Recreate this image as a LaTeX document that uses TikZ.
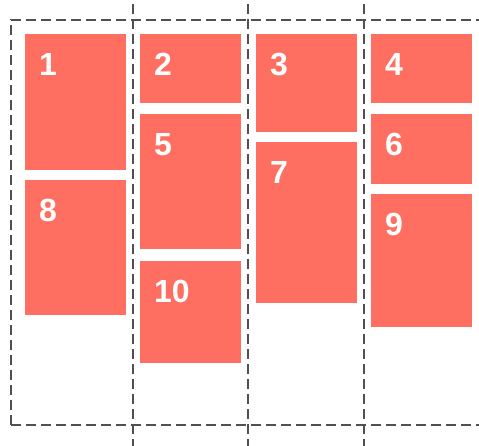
\documentclass[tikz,border=0pt]{standalone}
\usepackage{fontspec}
\setmainfont{Liberation Sans}
\usetikzlibrary{positioning}
\definecolor{tilered}{RGB}{255,111,97}
\definecolor{guidegray}{RGB}{80,80,80}

\begin{document}
\begin{tikzpicture}[
  x=1pt, y=-1pt,
  tile/.style={draw=none, fill=tilered, minimum width=101pt, inner sep=0pt, anchor=north west},
  num/.style={text=white, font=\bfseries\fontsize{32}{32}\selectfont, inner sep=0pt, anchor=base west},
  guide/.style={draw=guidegray, line width=2pt, dash pattern=on 10pt off 5pt}
]
\useasboundingbox (0,0) rectangle (479,445);
\clip (0,0) rectangle (479,445);

% column guides and outer frame
\draw[guide] (11,425) -- (11,20) -- (490,20);
\draw[guide] (11,425) -- (490,425);
\draw[guide] (133,4) -- (133,450);
\draw[guide] (248,4) -- (248,450);
\draw[guide] (364,4) -- (364,450);

% tiles
\node[tile, minimum height=136pt] (t1)  at (25,34)   {};
\node[tile, minimum height=69pt]  (t2)  at (140,34)  {};
\node[tile, minimum height=98pt]  (t3)  at (256,34)  {};
\node[tile, minimum height=69pt]  (t4)  at (371,34)  {};
\node[tile, minimum height=135pt] (t5)  at (140,114) {};
\node[tile, minimum height=70pt]  (t6)  at (371,114) {};
\node[tile, minimum height=161pt] (t7)  at (256,142) {};
\node[tile, minimum height=135pt] (t8)  at (25,180)  {};
\node[tile, minimum height=133pt] (t9)  at (371,194) {};
\node[tile, minimum height=102pt] (t10) at (140,261) {};

% numbers
\node[num] (n1)  at ([xshift=14pt,yshift=-41pt]t1.north west)  {1};
\node[num] (n2)  at ([xshift=14pt,yshift=-41pt]t2.north west)  {2};
\node[num] (n3)  at ([xshift=14pt,yshift=-41pt]t3.north west)  {3};
\node[num] (n4)  at ([xshift=14pt,yshift=-41pt]t4.north west)  {4};
\node[num] (n5)  at ([xshift=14pt,yshift=-41pt]t5.north west)  {5};
\node[num] (n6)  at ([xshift=14pt,yshift=-41pt]t6.north west)  {6};
\node[num] (n7)  at ([xshift=14pt,yshift=-41pt]t7.north west)  {7};
\node[num] (n8)  at ([xshift=14pt,yshift=-41pt]t8.north west)  {8};
\node[num] (n9)  at ([xshift=14pt,yshift=-41pt]t9.north west)  {9};
\node[num] (n10) at ([xshift=14pt,yshift=-41pt]t10.north west) {10};
\end{tikzpicture}
\end{document}
